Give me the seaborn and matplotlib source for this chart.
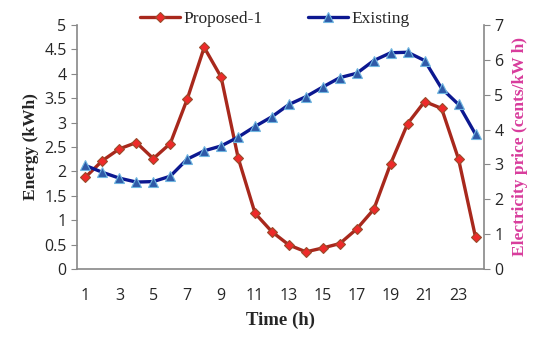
import pandas as pd
import matplotlib.pyplot as plt
import seaborn as sns

hours = list(range(1, 25))
proposed = [1.88, 2.22, 2.46, 2.59, 2.26, 2.57, 3.48, 4.54, 3.93, 2.28, 1.14, 0.76,
            0.49, 0.35, 0.43, 0.52, 0.82, 1.22, 2.16, 2.98, 3.43, 3.29, 2.25, 0.65]
existing = [2.12, 1.98, 1.86, 1.78, 1.79, 1.90, 2.25, 2.42, 2.52, 2.70, 2.92, 3.12,
            3.37, 3.53, 3.73, 3.92, 4.01, 4.27, 4.43, 4.44, 4.27, 3.70, 3.37, 2.76]
xticks = list(range(1, 24, 2))

df = pd.DataFrame({"hour": hours, "Proposed-1": proposed, "Existing": existing})

sns.set_style("ticks")
plt.rcParams['font.family'] = ['Open Sans', 'DejaVu Sans']

fig = plt.figure(figsize=(5.5, 3.37), dpi=100)
ax = fig.add_axes([0.14, 0.202, 0.74, 0.724])

sns.lineplot(data=df, x="hour", y="Proposed-1", ax=ax, color="#a8281c", lw=2.4,
             marker="D", markersize=5.5, markerfacecolor="#ee2a2a",
             markeredgecolor="#9a4a2a", markeredgewidth=0.8, label="Proposed-1")
sns.lineplot(data=df, x="hour", y="Existing", ax=ax, color="#0c1890", lw=2.4,
             marker="^", markersize=7.5, markerfacecolor="#2f5aa8",
             markeredgecolor="#6fb6e0", markeredgewidth=0.8, label="Existing")

ax.set_xlim(0.5, 24.5)
ax.set_ylim(0, 5)
ax.set_xticks(xticks)
ax.set_yticks([0, 0.5, 1, 1.5, 2, 2.5, 3, 3.5, 4, 4.5, 5])
ax.set_yticklabels(["0", "0.5", "1", "1.5", "2", "2.5", "3", "3.5", "4", "4.5", "5"])
ax.tick_params(axis="x", length=0, labelsize=11.5, pad=14)
ax.tick_params(axis="y", length=4, color="#888888", labelsize=11.5)
for s in ["top", "right"]:
    ax.spines[s].set_visible(False)
for s in ["left", "bottom"]:
    ax.spines[s].set_color("#888888")
    ax.spines[s].set_linewidth(1.2)

ax.set_xlabel("Time (h)", family="Liberation Serif", fontweight="bold", fontsize=13.5, labelpad=5)
ax.set_ylabel("Energy (kWh)", family="Liberation Serif", fontweight="bold", fontsize=12.5, labelpad=4)

ax2 = ax.twinx()
ax2.set_ylim(0, 7)
ax2.set_yticks(range(0, 8))
ax2.tick_params(axis="y", length=4, color="#888888", labelsize=11.5)
for s in ["top", "left", "bottom"]:
    ax2.spines[s].set_visible(False)
ax2.spines["right"].set_color("#888888")
ax2.spines["right"].set_linewidth(1.2)
ax2.set_ylabel("Electricity price (cents/kW h)", family="Liberation Serif",
               fontweight="bold", fontsize=12.5, color="#d83c9c", labelpad=6)
ax2.grid(False)

handles, labels = ax.get_legend_handles_labels()
ax.get_legend().remove()
fig.legend(handles, labels, loc="upper center", bbox_to_anchor=(0.5, 1.015), ncol=2,
           frameon=False, prop={"family": "Liberation Serif", "size": 12.5},
           handlelength=2.3, columnspacing=2.6, handletextpad=0.2)

fig.savefig("out.png", dpi=100)
